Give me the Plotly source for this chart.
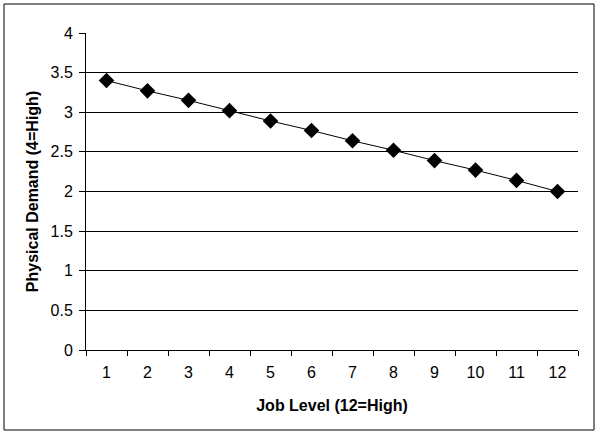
import plotly.graph_objects as go

job_levels = [str(i) for i in range(1, 13)]
physical_demand = [3.40, 3.27, 3.15, 3.02, 2.89, 2.77, 2.64, 2.52, 2.39, 2.27, 2.14, 2.00]

font_family = "Liberation Sans, Arial, sans-serif"

fig = go.Figure()
fig.add_trace(go.Scatter(
    x=job_levels,
    y=physical_demand,
    mode="lines+markers",
    line=dict(color="black", width=1),
    marker=dict(symbol="diamond", size=12, color="black"),
    showlegend=False,
))

fig.update_layout(
    width=600,
    height=435,
    margin=dict(l=86, r=22, t=33, b=85),
    paper_bgcolor="white",
    plot_bgcolor="white",
    font=dict(family=font_family, size=16, color="black"),
)

fig.update_xaxes(
    type="category",
    range=[-0.5, len(job_levels) - 0.5],
    tickson="boundaries",
    ticks="outside",
    ticklen=5,
    tickcolor="black",
    tickfont=dict(size=16),
    ticklabelstandoff=8,
    showline=True,
    linecolor="black",
    linewidth=1,
    showgrid=False,
    automargin=False,
    title=dict(text="<b>Job Level (12=High)</b>", standoff=19, font=dict(size=16)),
)

fig.update_yaxes(
    range=[0, 4],
    dtick=0.5,
    ticks="outside",
    ticklen=6,
    tickcolor="black",
    tickfont=dict(size=16),
    ticklabelstandoff=3,
    showline=True,
    linecolor="black",
    linewidth=1,
    showgrid=True,
    gridcolor="black",
    gridwidth=1,
    zeroline=False,
    automargin=False,
    title=dict(text="<b>Physical Demand (4=High)</b>", standoff=7, font=dict(size=16)),
)

# outer chart border
fig.add_shape(
    type="rect",
    xref="paper", yref="paper",
    x0=(4 - 86) / 492, x1=(594 - 86) / 492,
    y0=(350 - 430) / 317, y1=(350 - 4) / 317,
    line=dict(color="black", width=1),
    layer="below",
)

fig.write_html(
    "out.html",
    config={"displayModeBar": False},
    post_script="document.body.style.margin='0';",
)
